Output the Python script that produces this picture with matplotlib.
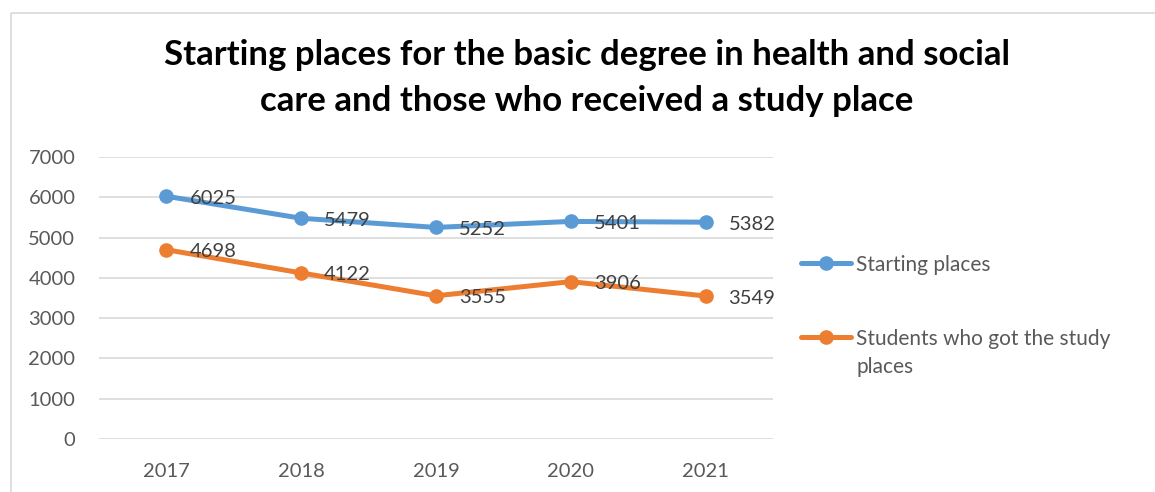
import numpy as np
import matplotlib.pyplot as plt
from matplotlib.lines import Line2D
from matplotlib.patches import Rectangle

years = ['2017', '2018', '2019', '2020', '2021']
starting_places = [6025, 5479, 5252, 5401, 5382]
got_study_place = [4698, 4122, 3555, 3906, 3549]
series_names = ['Starting places', 'Students who got the study\nplaces']
yticks = [0, 1000, 2000, 3000, 4000, 5000, 6000, 7000]

BLUE = '#5B9BD5'
ORANGE = '#ED7D31'
GRID = '#D9D9D9'
TICK_COLOR = '#595959'
LABEL_COLOR = '#404040'

W, H = 1155, 492
plt.rcParams['font.family'] = ['Lato', 'DejaVu Sans']

fig = plt.figure(figsize=(W / 100, H / 100), dpi=100)

# full-figure overlay in pixel units for frame, title and legend
over = fig.add_axes([0, 0, 1, 1])
over.set_xlim(0, W)
over.set_ylim(H, 0)
over.axis('off')
over.add_patch(Rectangle((10.5, 12.5), W, H, fill=False, edgecolor=GRID, lw=1.2))
over.text(587, 39, 'Starting places for the basic degree in health and social\ncare and those who received a study place',
          ha='center', va='top', fontsize=25, fontweight='bold', color='black', linespacing=1.52)

# plot area
left, right, top, bottom = 99, 773, 157, 439
ax = fig.add_axes([left / W, (H - bottom) / H, (right - left) / W, (bottom - top) / H])
x = np.arange(len(years))
series = [(starting_places, BLUE), (got_study_place, ORANGE)]
for vals, col in series:
    ax.plot(x, vals, color=col, lw=3.6, marker='o', markersize=9.5, solid_capstyle='round', zorder=3)
    for xi, v in zip(x, vals):
        ax.annotate(str(v), (xi, v), xytext=(23, -2), textcoords='offset pixels',
                    va='center', ha='left', fontsize=14.5, color=LABEL_COLOR, zorder=4)

ax.set_xlim(-0.5, len(years) - 0.5)
ax.set_ylim(0, 7000)
ax.set_yticks(yticks)
ax.set_xticks(x, years)
ax.yaxis.grid(True, color=GRID, lw=1.2)
ax.set_axisbelow(True)
for s in ax.spines.values():
    s.set_visible(False)
ax.tick_params(length=0, labelsize=14.5, labelcolor=TICK_COLOR, pad=17)
ax.patch.set_alpha(0)

# legend drawn in pixel space so the handle lines up with the first text line
leg_rows = [(263, BLUE), (337, ORANGE)]
for (yy, col), name in zip(leg_rows, series_names):
    over.add_line(Line2D([801, 851], [yy, yy], color=col, lw=3.6, solid_capstyle='round'))
    over.add_line(Line2D([826], [yy], color=col, marker='o', markersize=9.5))
    over.text(856, yy - 8, name, ha='left', va='top', fontsize=15, color=TICK_COLOR, linespacing=1.5)

fig.savefig('out.png', dpi=100)
